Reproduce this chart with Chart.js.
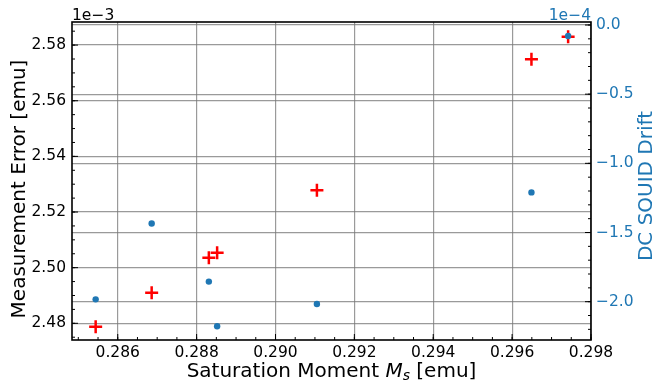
<!DOCTYPE html>
<html>
<head>
<meta charset="utf-8">
<script src="https://cdn.jsdelivr.net/npm/chart.js@4/dist/chart.umd.min.js"></script>
<style>
  html, body { margin: 0; padding: 0; background: #fff; }
  #wrap { width: 652px; height: 383px; position: relative; }
</style>
</head>
<body>
<div id="wrap"><canvas id="driftChart"></canvas></div>
<script>
// saturation moment (emu) per run
const moment = [0.28544, 0.28686, 0.28831, 0.28852, 0.29105, 0.29649, 0.29742];
// measurement error, units of 1e-3 emu
const measError = [2.4788, 2.4910, 2.5036, 2.5054, 2.5278, 2.5749, 2.5830];
// DC SQUID drift, units of 1e-4
const squidDrift = [-1.983, -1.435, -1.855, -2.178, -2.017, -1.210, -0.079];

const xTicks = [0.286, 0.288, 0.290, 0.292, 0.294, 0.296, 0.298];
const errTicks = [2.48, 2.50, 2.52, 2.54, 2.56, 2.58];
const driftTicks = [-2.0, -1.5, -1.0, -0.5, 0.0];

const FONT = 'DejaVu Sans';
const BLUE = '#1f77b4';
const GRID = 'rgba(120, 120, 120, 0.75)';

function setTicks(values) {
  return (scale) => { scale.ticks = values.map(v => ({ value: v })); };
}

function minorRange(min, max, step) {
  const out = [];
  for (let v = Math.ceil(min / step) * step; v <= max + 1e-12; v += step) out.push(v);
  return out;
}

// spines, inward tick marks, offset texts and axis titles
const decorations = {
  id: 'decorations',
  afterDatasetsDraw(chart) {
    const { ctx, chartArea: a, scales } = chart;
    const x = scales.x, y = scales.y, y1 = scales.y1;
    ctx.save();
    ctx.strokeStyle = '#000';
    ctx.lineWidth = 1;
    const tick = (x0, y0, x1, y1p) => { ctx.beginPath(); ctx.moveTo(x0, y0); ctx.lineTo(x1, y1p); ctx.stroke(); };

    minorRange(x.min, x.max, 0.0005).forEach(v => {
      const p = x.getPixelForValue(v);
      tick(p, a.bottom, p, a.bottom - 3);
    });
    xTicks.forEach(v => { const p = x.getPixelForValue(v); tick(p, a.bottom, p, a.bottom - 6); });
    minorRange(y.min, y.max, 0.005).forEach(v => {
      const p = y.getPixelForValue(v);
      tick(a.left, p, a.left + 3, p);
    });
    errTicks.forEach(v => { const p = y.getPixelForValue(v); tick(a.left, p, a.left + 6, p); });
    minorRange(y1.min, y1.max, 0.1).forEach(v => {
      const p = y1.getPixelForValue(v);
      tick(a.right, p, a.right - 3, p);
    });
    driftTicks.forEach(v => { const p = y1.getPixelForValue(v); tick(a.right, p, a.right - 6, p); });

    ctx.lineWidth = 1.6;
    ctx.strokeRect(a.left, a.top, a.right - a.left, a.bottom - a.top);

    // offset texts
    ctx.font = `15.5px "${FONT}"`;
    ctx.textBaseline = 'alphabetic';
    ctx.fillStyle = '#000';
    ctx.textAlign = 'left';
    ctx.fillText('1e\u22123', a.left, a.top - 2.5);
    ctx.fillStyle = BLUE;
    ctx.textAlign = 'right';
    ctx.fillText('1e\u22124', a.right, a.top - 2.5);

    // y titles
    ctx.font = `20px "${FONT}"`;
    ctx.textAlign = 'center';
    ctx.fillStyle = '#000';
    ctx.save();
    ctx.translate(25, 189);
    ctx.rotate(-Math.PI / 2);
    ctx.fillText('Measurement Error [emu]', 0, 0);
    ctx.restore();
    ctx.fillStyle = BLUE;
    ctx.save();
    ctx.translate(652, 186);
    ctx.rotate(-Math.PI / 2);
    ctx.fillText('DC SQUID Drift', 0, 0);
    ctx.restore();

    // x title with italic M_s
    ctx.fillStyle = '#000';
    ctx.textAlign = 'left';
    const parts = [
      { t: 'Saturation Moment ', f: `20px "${FONT}"`, dy: 0 },
      { t: 'M', f: `oblique 20px "${FONT}"`, dy: 0 },
      { t: 's', f: `oblique 14px "${FONT}"`, dy: 3 },
      { t: ' [emu]', f: `20px "${FONT}"`, dy: 0 },
    ];
    let total = 0;
    parts.forEach(p => { ctx.font = p.f; p.w = ctx.measureText(p.t).width; total += p.w; });
    let cx = (a.left + a.right) / 2 - total / 2;
    const base = 377;
    parts.forEach(p => { ctx.font = p.f; ctx.fillText(p.t, cx, base + p.dy); cx += p.w; });
    ctx.restore();
  }
};

new Chart(document.getElementById('driftChart'), {
  type: 'scatter',
  data: {
    datasets: [
      {
        label: 'Measurement Error',
        data: moment.map((m, i) => ({ x: m, y: measError[i] })),
        yAxisID: 'y',
        pointStyle: 'cross',
        pointRadius: 6.5,
        pointBorderWidth: 2.5,
        borderColor: '#ff0000',
        backgroundColor: '#ff0000',
        order: 2,
      },
      {
        label: 'DC SQUID Drift',
        data: moment.map((m, i) => ({ x: m, y: squidDrift[i] })),
        yAxisID: 'y1',
        pointStyle: 'circle',
        pointRadius: 3.2,
        pointBorderWidth: 0,
        borderColor: BLUE,
        backgroundColor: BLUE,
        order: 1,
      },
    ],
  },
  options: {
    responsive: true,
    maintainAspectRatio: false,
    animation: false,
    layout: { padding: { top: 22, left: 0, right: 0, bottom: 0 } },
    plugins: { legend: { display: false }, tooltip: { enabled: false } },
    scales: {
      x: {
        type: 'linear',
        min: 0.28484,
        max: 0.298,
        afterBuildTicks: setTicks(xTicks),
        afterFit(scale) { scale.height = 43; },
        grid: { color: GRID, lineWidth: 1.2, drawTicks: false },
        border: { display: false },
        ticks: {
          color: '#000',
          padding: 4,
          maxRotation: 0,
          autoSkip: false,
          font: { family: FONT, size: 15.5 },
          callback: v => v.toFixed(3),
        },
      },
      y: {
        position: 'left',
        min: 2.4740,
        max: 2.5883,
        afterBuildTicks: setTicks(errTicks),
        afterFit(scale) { scale.width = 72; },
        grid: { color: GRID, lineWidth: 1.2, drawTicks: false },
        border: { display: false },
        ticks: {
          color: '#000',
          padding: 6,
          autoSkip: false,
          font: { family: FONT, size: 15.5 },
          callback: v => v.toFixed(2),
        },
      },
      y1: {
        position: 'right',
        min: -2.277,
        max: 0.0217,
        afterBuildTicks: setTicks(driftTicks),
        afterFit(scale) { scale.width = 61; },
        grid: { color: GRID, lineWidth: 1.2, drawTicks: false },
        border: { display: false },
        ticks: {
          color: BLUE,
          padding: 5,
          autoSkip: false,
          font: { family: FONT, size: 15.5 },
          callback: v => v.toFixed(1).replace('-', '\u2212'),
        },
      },
    },
  },
  plugins: [decorations],
});
</script>
</body>
</html>
